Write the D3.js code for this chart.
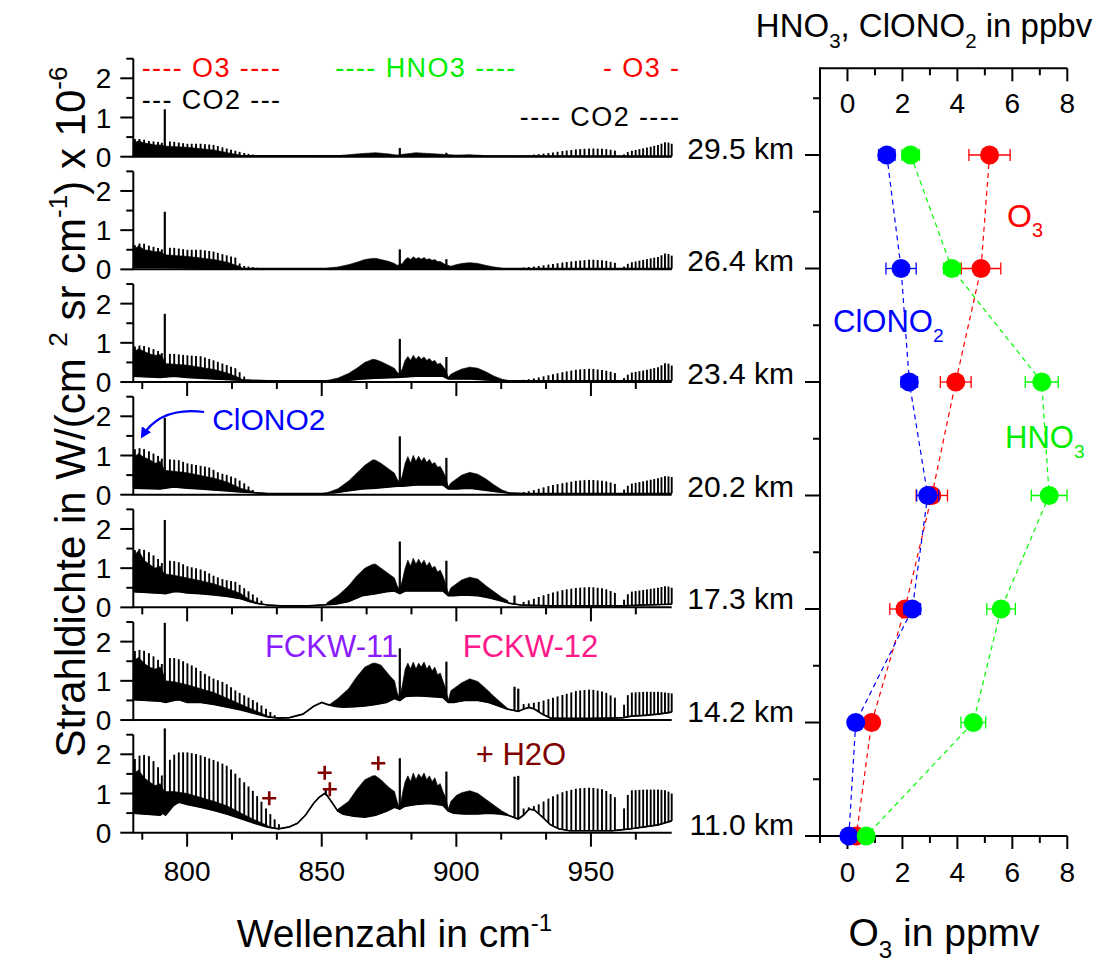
<!DOCTYPE html>
<html><head><meta charset="utf-8">
<script src="https://cdn.jsdelivr.net/npm/d3@7"></script>
<style>
body{margin:0;background:#fff}
text{font-family:"Liberation Sans",Arial,Helvetica,sans-serif;white-space:pre}
</style>
</head><body>
<svg id="c" width="1106" height="962" xmlns="http://www.w3.org/2000/svg" font-family="Liberation Sans, Arial, sans-serif"></svg>
<script>
// ===================== DATA =====================
const altitudes = ["29.5","26.4","23.4","20.2","17.3","14.2","11.0"];

// right panel profiles (bottom axis O3 ppmv, top axis HNO3/ClONO2 ppbv)
const o3      = [5.17, 4.86, 3.94, 3.07, 2.09, 0.88, 0.32];
const o3Err   = [0.75, 0.72, 0.56, 0.57, 0.55, 0.10, 0.05];
const hno3    = [2.30, 3.80, 7.07, 7.34, 5.59, 4.58, 0.68];
const hno3Err = [0.32, 0.30, 0.60, 0.65, 0.52, 0.45, 0.05];
const clono2    = [1.43, 1.95, 2.25, 2.92, 2.36, 0.30, 0.05];
const clono2Err = [0.30, 0.55, 0.30, 0.40, 0.30, 0.05, 0.05];

const spectraTicks = [800, 850, 900, 950];
const profileTicks = [0, 2, 4, 6, 8];
const radianceTicks = [0, 1, 2];

// positions of the regularly spaced (CO2) lines, cm^-1
const lineWn = [780.6,782.3,784.0,785.8,787.5,789.2,790.6,
  793.6,795.2,796.9,798.5,800.1,801.7,803.3,805.0,806.6,808.2,809.8,811.4,813.1,814.7,816.3,817.9,819.5,821.2,822.8,824.4,826.0,827.6,829.3,830.9,832.5,834.1,
  925.0,926.9,928.8,930.6,932.4,934.2,935.9,937.6,939.4,941.0,942.7,944.4,946.0,947.6,949.3,950.9,952.5,954.1,955.7,957.3,958.9,
  962.3,963.7,965.2,966.6,968.0,969.4,970.8,972.2,973.5,974.9,976.2,977.5,978.8,980.0];

// ---- 29.5 km ----
const lo295 = [[780,0.03],[800,0.02],[980,0.01]];
const hi295 = [[780,0.35],[782,0.4],[784,0.35],[786,0.33],[788,0.3],[790,0.3],[791,0.28],[792,0.27],[800,0.24],[810,0.17],[815,0.1],[820,0.04],[821,0],[854,0],[855,0.02],[860,0.05],[865,0.08],[870,0.1],[875,0.07],[878,0.04],[880,0.06],[885,0.1],[890,0.08],[895,0.06],[900,0.04],[905,0.05],[910,0.03],[911,0],[980,0]];
const pk295 = [[780,0.45],[783,0.45],[786,0.4],[789,0.38],[791,0.35],[792,0.4],[795,0.38],[800,0.33],[805,0.33],[810,0.3],[814,0.22],[818,0.15],[822,0.08],[830,0],[923,0],[924,0.03],[930,0.06],[935,0.1],[940,0.15],[945,0.19],[950,0.21],[955,0.2],[958,0.17],[961,0.12],[962,0.04],[963,0.1],[965,0.15],[970,0.22],[975,0.3],[978,0.38],[980,0.33]];
const sp295 = [[791.7,1.21],[879,0.22],[896.3,0.1]];

// ---- 26.4 km ----
const lo264 = [[780,0.05],[790,0.05],[800,0.04],[820,0.02],[980,0.02]];
const hi264 = [[780,0.5],[782,0.6],[784,0.5],[786,0.48],[788,0.45],[790,0.45],[791,0.4],[792,0.37],[800,0.33],[810,0.25],[815,0.18],[820,0.06],[821,0],[851,0],[852,0.03],[856,0.06],[860,0.12],[863,0.18],[866,0.25],[869,0.28],[870,0.28],[872,0.25],[875,0.2],[877,0.15],[878,0.1],[880,0.15],[881,0.25],[882,0.3],[883,0.25],[884,0.32],[885,0.27],[886,0.3],[887,0.26],[888,0.3],[889,0.25],[890,0.27],[891,0.23],[892,0.25],[893,0.2],[894,0.2],[895,0.16],[896,0.12],[898,0.08],[900,0.12],[902,0.15],[905,0.17],[908,0.15],[911,0.1],[914,0.06],[917,0.03],[918,0],[980,0]];
const pk264 = [[780,0.6],[783,0.68],[786,0.6],[789,0.55],[791,0.5],[792,0.55],[795,0.55],[800,0.5],[805,0.5],[810,0.45],[814,0.37],[818,0.3],[820,0.1],[830,0],[923,0],[924,0.04],[930,0.08],[935,0.13],[940,0.18],[945,0.22],[950,0.25],[955,0.23],[958,0.18],[961,0.14],[962,0.05],[963,0.12],[965,0.18],[970,0.25],[975,0.32],[978,0.42],[980,0.35]];
const sp264 = [[791.7,1.47],[879,0.51],[896.3,0.26]];

// ---- 23.4 km ----
const lo234 = [[780,0.15],[790,0.12],[795,0.15],[800,0.12],[810,0.08],[820,0.05],[830,0.03],[855,0.03],[860,0.05],[865,0.08],[870,0.1],[878,0.12],[885,0.15],[895,0.15],[897,0.08],[905,0.08],[915,0.04],[920,0.03],[980,0.03]];
const hi234 = [[780,0.75],[782,0.85],[784,0.78],[786,0.72],[788,0.68],[790,0.7],[791,0.6],[792,0.47],[800,0.43],[810,0.32],[815,0.23],[820,0.09],[821,0],[851,0],[852,0.04],[856,0.1],[860,0.22],[863,0.35],[866,0.5],[869,0.58],[870,0.57],[872,0.52],[875,0.42],[877,0.35],[878,0.25],[879,0.2],[880,0.35],[881,0.55],[882,0.65],[883,0.55],[884,0.68],[885,0.58],[886,0.66],[887,0.58],[888,0.64],[889,0.55],[890,0.6],[891,0.52],[892,0.55],[893,0.45],[894,0.48],[895,0.4],[896,0.3],[897,0.12],[898,0.2],[900,0.27],[902,0.33],[905,0.38],[908,0.35],[911,0.26],[914,0.15],[917,0.07],[919,0.04],[920,0],[980,0]];
const pk234 = [[780,0.9],[783,0.94],[786,0.88],[789,0.8],[791,0.72],[792,0.72],[795,0.72],[800,0.68],[805,0.66],[810,0.55],[814,0.45],[818,0.35],[821,0.15],[824,0],[923,0],[924,0.05],[928,0.08],[932,0.14],[936,0.2],[940,0.26],[945,0.32],[950,0.34],[955,0.3],[958,0.25],[961,0.18],[962,0.08],[963,0.16],[965,0.24],[970,0.3],[975,0.38],[978,0.5],[980,0.42]];
const sp234 = [[791.7,1.74],[879,1.1],[896.3,0.64]];

// ---- 20.2 km ----
const lo202 = [[780,0.17],[790,0.15],[795,0.2],[800,0.17],[805,0.15],[810,0.12],[815,0.1],[820,0.07],[825,0.05],[830,0.03],[850,0.03],[855,0.05],[860,0.1],[865,0.15],[870,0.17],[875,0.2],[878,0.22],[880,0.22],[885,0.25],[890,0.25],[895,0.25],[897,0.15],[900,0.15],[905,0.17],[910,0.12],[915,0.08],[920,0.04],[925,0.03],[980,0.03]];
const hi202 = [[780,0.95],[782,1.05],[784,0.95],[786,0.9],[788,0.8],[790,0.85],[791,0.7],[792,0.62],[800,0.56],[810,0.42],[815,0.32],[820,0.16],[825,0.07],[826,0],[851,0],[852,0.05],[856,0.15],[860,0.35],[863,0.55],[866,0.75],[869,0.89],[870,0.88],[872,0.8],[875,0.65],[877,0.55],[878,0.4],[879,0.3],[880,0.5],[881,0.8],[882,0.97],[883,0.8],[884,1.0],[885,0.85],[886,0.98],[887,0.85],[888,0.95],[889,0.82],[890,0.9],[891,0.78],[892,0.82],[893,0.7],[894,0.72],[895,0.6],[896,0.45],[897,0.2],[898,0.3],[900,0.4],[902,0.5],[905,0.57],[908,0.52],[911,0.4],[914,0.25],[917,0.12],[919,0.07],[920,0],[980,0]];
const pk202 = [[780,1.15],[783,1.2],[786,1.1],[789,1.0],[791,0.9],[792,0.9],[794,0.9],[797,0.88],[800,0.8],[804,0.75],[808,0.7],[812,0.55],[815,0.5],[818,0.42],[821,0.3],[824,0.15],[826,0],[923,0],[924,0.06],[928,0.1],[932,0.18],[936,0.25],[940,0.3],[945,0.36],[950,0.38],[955,0.35],[958,0.3],[961,0.22],[962,0.1],[963,0.2],[965,0.28],[970,0.35],[975,0.42],[978,0.48],[980,0.45]];
const sp202 = [[791.7,1.96],[879,1.49],[896.3,0.94]];

// ---- 17.3 km ----
const lo173 = [[780,0.4],[785,0.38],[790,0.36],[792,0.35],[795,0.4],[797,0.4],[800,0.37],[805,0.35],[810,0.32],[815,0.28],[820,0.22],[823,0.15],[826,0.1],[830,0.06],[835,0.04],[845,0.04],[850,0.06],[855,0.08],[860,0.15],[865,0.3],[870,0.35],[874,0.4],[877,0.42],[879,0.35],[881,0.42],[885,0.42],[890,0.42],[895,0.42],[897,0.3],[899,0.3],[903,0.32],[908,0.3],[912,0.25],[916,0.18],[920,0.1],[924,0.06],[928,0.05],[935,0.04],[950,0.04],[962,0.04],[970,0.06],[980,0.08]];
const hi173 = [[780,1.3],[782,1.45],[784,1.2],[786,1.1],[788,1.0],[790,1.05],[791,0.9],[792,0.85],[795,0.82],[800,0.75],[805,0.68],[810,0.6],[815,0.48],[820,0.35],[823,0.2],[826,0.12],[827,0],[851,0],[852,0.12],[856,0.3],[860,0.55],[863,0.8],[866,1.0],[869,1.1],[870,1.1],[872,1.0],[875,0.85],[877,0.75],[878,0.55],[879,0.45],[880,0.7],[881,1.0],[882,1.2],[883,1.05],[884,1.25],[885,1.1],[886,1.23],[887,1.1],[888,1.2],[889,1.05],[890,1.15],[891,1.0],[892,1.05],[893,0.9],[894,0.95],[895,0.8],[896,0.6],[897,0.35],[898,0.5],[900,0.6],[902,0.7],[905,0.77],[908,0.72],[911,0.55],[914,0.4],[917,0.25],[919,0.18],[920,0],[980,0]];
const pk173 = [[780,1.45],[783,1.5],[786,1.4],[789,1.25],[791,1.1],[792,1.15],[794,1.2],[797,1.15],[800,1.05],[803,1.0],[806,0.95],[810,0.8],[814,0.7],[818,0.65],[822,0.45],[825,0.3],[828,0.15],[830,0],[923,0],[924,0.12],[928,0.2],[932,0.3],[936,0.38],[940,0.45],[945,0.5],[950,0.52],[955,0.48],[958,0.4],[961,0.3],[962,0.15],[963,0.3],[965,0.4],[970,0.45],[975,0.5],[978,0.55],[980,0.5]];
const sp173 = [[791.7,2.23],[879,1.68],[896.3,1.19],[921.6,0.3]];

// ---- 14.2 km ----
const lo142 = [[780,0.52],[785,0.5],[790,0.48],[792,0.45],[795,0.5],[797,0.52],[800,0.45],[805,0.45],[810,0.4],[815,0.33],[820,0.26],[825,0.17],[830,0.08],[834,0.05],[838,0.06],[843,0.15],[847,0.35],[850,0.45],[852,0.4],[855,0.35],[858,0.33],[862,0.34],[866,0.36],[870,0.4],[874,0.45],[877,0.55],[879,0.5],[881,0.6],[885,0.62],[890,0.6],[895,0.58],[897,0.45],[899,0.45],[903,0.5],[908,0.5],[912,0.45],[916,0.35],[919,0.28],[921,0.25],[923,0.22],[925,0.28],[927,0.32],[929,0.28],[932,0.15],[935,0.05],[940,0.04],[950,0.04],[958,0.05],[962,0.06],[965,0.1],[970,0.12],[975,0.15],[980,0.2]];
const hi142 = [[780,1.5],[782,1.6],[784,1.45],[786,1.35],[788,1.3],[790,1.35],[791,1.2],[792,1.0],[795,0.98],[800,0.9],[805,0.8],[810,0.7],[815,0.55],[820,0.4],[825,0.25],[830,0.1],[831,0],[852,0],[853,0.4],[856,0.55],[860,0.8],[863,1.1],[866,1.35],[869,1.45],[870,1.45],[872,1.4],[875,1.15],[877,1.0],[878,0.7],[879,0.55],[880,0.9],[881,1.3],[882,1.45],[883,1.3],[884,1.48],[885,1.3],[886,1.45],[887,1.35],[888,1.48],[889,1.3],[890,1.4],[891,1.25],[892,1.35],[893,1.15],[894,1.2],[895,1.0],[896,0.8],[897,0.5],[898,0.75],[900,0.85],[902,0.95],[905,1.05],[908,0.98],[911,0.8],[914,0.6],[917,0.42],[919,0.3],[920,0],[980,0]];
const pk142 = [[780,1.75],[783,1.8],[786,1.7],[789,1.55],[791,1.4],[792,1.5],[794,1.6],[797,1.55],[800,1.45],[803,1.35],[806,1.2],[810,1.05],[814,0.95],[818,0.75],[822,0.6],[826,0.45],[830,0.25],[833,0.1],[835,0],[923,0],[924,0.4],[930,0.45],[935,0.55],[940,0.65],[945,0.75],[950,0.78],[955,0.72],[958,0.6],[961,0.5],[962,0.3],[963,0.6],[965,0.7],[970,0.72],[975,0.72],[978,0.7],[980,0.68]];
const sp142 = [[791.7,2.48],[879,1.83],[896.3,1.49],[921.6,0.85],[923,0.8]];

// ---- 11.0 km ----
const lo110 = [[780,0.5],[785,0.47],[790,0.45],[791,0.5],[792,0.45],[795,0.7],[797,0.78],[800,0.72],[805,0.65],[810,0.57],[815,0.47],[820,0.36],[825,0.24],[830,0.14],[834,0.1],[838,0.15],[841,0.24],[844,0.45],[847,0.75],[849,0.9],[850,0.95],[851,1.0],[852,0.95],[853.5,0.8],[856,0.55],[858,0.47],[862,0.42],[866,0.4],[870,0.45],[874,0.55],[877,0.65],[879,0.6],[881,0.68],[885,0.72],[890,0.75],[895,0.7],[897,0.55],[899,0.5],[903,0.48],[908,0.48],[912,0.5],[916,0.48],[919,0.45],[921,0.4],[923,0.35],[925,0.45],[927,0.6],[929,0.58],[932,0.4],[935,0.2],[938,0.1],[942,0.05],[950,0.05],[958,0.05],[962,0.08],[965,0.1],[970,0.15],[975,0.2],[980,0.3]];
const hi110 = [[780,1.5],[782,1.6],[784,1.4],[786,1.3],[788,1.2],[790,1.25],[791,1.1],[792,1.05],[795,1.05],[800,1.0],[805,0.9],[810,0.8],[815,0.68],[820,0.5],[825,0.33],[830,0.18],[831,0],[855,0],[856,0.6],[860,0.8],[863,1.1],[866,1.35],[869,1.45],[870,1.45],[872,1.35],[875,1.15],[877,1.05],[878,0.8],[879,0.6],[880,1.0],[881,1.3],[882,1.45],[883,1.3],[884,1.52],[885,1.35],[886,1.5],[887,1.4],[888,1.52],[889,1.35],[890,1.45],[891,1.3],[892,1.4],[893,1.2],[894,1.25],[895,1.05],[896,0.9],[897,0.6],[898,0.8],[900,0.95],[902,1.02],[905,1.07],[908,1.0],[911,0.85],[914,0.7],[917,0.55],[919,0.48],[920,0],[980,0]];
const pk110 = [[780,1.85],[783,2.0],[786,1.95],[789,1.7],[791,1.4],[792,1.5],[794,1.95],[797,2.05],[800,2.05],[804,2.0],[808,1.9],[812,1.8],[815,1.7],[818,1.5],[821,1.3],[824,1.1],[827,0.85],[830,0.55],[833,0.3],[835,0.15],[836,0],[923,0],[924,0.6],[930,0.7],[935,0.9],[940,1.05],[945,1.13],[950,1.15],[955,1.1],[958,0.95],[961,0.8],[962,0.5],[963,0.9],[965,1.08],[970,1.1],[975,1.1],[978,1.08],[980,1.0]];
const sp110 = [[791.7,2.66],[851.5,1.09],[879,1.9],[896.3,1.56],[921.6,1.43],[923,1.45]];

// ===================== LAYOUT =====================
const svg = d3.select("#c");
const W = 1106, H = 962;
svg.append("rect").attr("width",W).attr("height",H).attr("fill","#fff");

const panels = [
  {alt:"29.5", lo:lo295, hi:hi295, pk:pk295, sp:sp295},
  {alt:"26.4", lo:lo264, hi:hi264, pk:pk264, sp:sp264},
  {alt:"23.4", lo:lo234, hi:hi234, pk:pk234, sp:sp234},
  {alt:"20.2", lo:lo202, hi:hi202, pk:pk202, sp:sp202},
  {alt:"17.3", lo:lo173, hi:hi173, pk:pk173, sp:sp173},
  {alt:"14.2", lo:lo142, hi:hi142, pk:pk142, sp:sp142},
  {alt:"11.0", lo:lo110, hi:hi110, pk:pk110, sp:sp110}
];

const x = d3.scaleLinear().domain([780,980]).range([133.3,671.7]);
const yBase = d3.scalePoint().domain(altitudes).range([156.7,832.7]);
const panelH = 98;
const yR = d3.scalePoint().domain(altitudes).range([155,836]);
const xR = d3.scaleLinear().domain([-1,8]).range([820,1067.3]);

function interp(arr, w){
  if (w <= arr[0][0]) return arr[0][1];
  for (let i=1;i<arr.length;i++){
    if (w <= arr[i][0]){
      const [x0,y0]=arr[i-1],[x1,y1]=arr[i];
      return y0 + (y1-y0)*(w-x0)/(x1-x0);
    }
  }
  return arr[arr.length-1][1];
}

function richText(sel, px, py, parts, size, color, anchor, rotate){
  const t = sel.append("text").attr("x",px).attr("y",py).attr("font-size",size)
    .attr("fill",color).attr("text-anchor",anchor||"start");
  if (rotate) t.attr("transform",`rotate(${rotate},${px},${py})`);
  let shift = 0;
  parts.forEach(([s,kind])=>{
    const target = kind==="sup" ? -0.42*size : kind==="sub" ? 0.32*size : 0;
    t.append("tspan").attr("dy", target-shift).attr("font-size", kind==="n"?size:size*0.62).text(s);
    shift = target;
  });
  return t;
}

const sampleWn = d3.range(780, 980.001, 0.1);

// ===================== SPECTRA PANELS =====================
panels.forEach((p,i)=>{
  const base = yBase(p.alt);
  const y = d3.scaleLinear().domain([0,2.5]).range([base, base-panelH]);
  const g = svg.append("g");

  const area = d3.area()
    .x(w=>x(w))
    .y0(w=>y(interp(p.lo,w)))
    .y1(w=>y(Math.max(interp(p.lo,w), interp(p.hi,w))));
  g.append("path").attr("d", area(sampleWn)).attr("fill","#000").attr("stroke","#000").attr("stroke-width",0.8);

  g.append("path").attr("d", d3.line().x(d=>x(d[0])).y(d=>y(d[1]))(p.lo))
    .attr("fill","none").attr("stroke","#000").attr("stroke-width",1.7);

  lineWn.forEach(w=>{
    const a = interp(p.lo,w), b = interp(p.pk,w);
    if (b > a + 0.01) {
      g.append("line").attr("x1",x(w)).attr("x2",x(w)).attr("y1",y(a)).attr("y2",y(b))
        .attr("stroke","#000").attr("stroke-width",1.9);
    }
  });
  p.sp.forEach(([w,v])=>{
    g.append("line").attr("x1",x(w)).attr("x2",x(w)).attr("y1",y(interp(p.lo,w))).attr("y2",y(v))
      .attr("stroke","#000").attr("stroke-width",2.2);
  });

  const ax = g.append("g").attr("stroke","#000").attr("stroke-width",2);
  ax.append("line").attr("x1",x(780)).attr("x2",x(780)).attr("y1",y(0)).attr("y2",y(2.5));
  ax.append("line").attr("x1",x(780)-1).attr("x2",x(980)).attr("y1",y(0)).attr("y2",y(0));
  [0,0.5,1,1.5,2,2.5].forEach(v=>{
    const len = (v%1===0) ? 13 : 7;
    ax.append("line").attr("x1",x(780)-len).attr("x2",x(780)).attr("y1",y(v)).attr("y2",y(v));
  });
  radianceTicks.forEach(v=>{
    g.append("text").attr("x",x(780)-22).attr("y",y(v)+10).attr("text-anchor","end")
      .attr("font-size",28).text(v);
  });
  if (i % 2 === 0 && i > 0) {
    d3.range(783.3333, 980, 50/3).forEach(w=>{
      const major = Math.abs(Math.round(w) % 50) < 0.5;
      ax.append("line").attr("x1",x(w)).attr("x2",x(w)).attr("y1",y(0)).attr("y2",y(0)+(major?14:7));
    });
  }

  svg.append("text").attr("x",794).attr("y",base+2).attr("text-anchor","end")
    .attr("font-size",30).text(p.alt+" km");
});

const bottomBase = yBase("11.0");
spectraTicks.forEach(v=>{
  svg.append("text").attr("x",x(v)).attr("y",bottomBase+48).attr("text-anchor","middle")
    .attr("font-size",28).text(v);
});

richText(svg, x(880)-8, 947, [["Wellenzahl in cm","n"],["-1","sup"]], 39, "#000", "middle");
richText(svg, 85, 412, [["Strahldichte in W/(cm ","n"],["2","sup"],[" sr cm","n"],["-1","sup"],[") x 10","n"],["-6","sup"]], 42, "#000", "middle", -90);

// ===================== ANNOTATIONS =====================
{
  const b0 = yBase("29.5");
  const y0 = d3.scaleLinear().domain([0,2.5]).range([b0,b0-panelH]);
  const leg = (wn, v, txt, col) => svg.append("text").attr("x",x(wn)).attr("y",y0(v))
    .attr("font-size",27).attr("letter-spacing",1.4).attr("fill",col).text(txt);
  leg(783.1, 2.04, "---- O3 ----", "#ff0000");
  leg(783.1, 1.21, "--- CO2 ---", "#000");
  leg(855, 2.04, "---- HNO3 ----", "#00ee00");
  leg(954.5, 2.04, "- O3 -", "#ff0000");
  leg(923.6, 0.78, "---- CO2 ----", "#000");

  const b3 = yBase("20.2");
  const y3 = d3.scaleLinear().domain([0,2.5]).range([b3,b3-panelH]);
  svg.append("text").attr("x",x(809.3)).attr("y",y3(1.65)).attr("font-size",30).attr("fill","#0000ff").text("ClONO2");
  svg.append("defs").append("marker").attr("id","ah").attr("viewBox","0 0 10 10").attr("refX",8).attr("refY",5)
    .attr("markerWidth",5).attr("markerHeight",5).attr("orient","auto")
    .append("path").attr("d","M0,0L10,5L0,10z").attr("fill","#0000ff");
  svg.append("path")
    .attr("d",`M${x(806.3)},${y3(2.11)} Q${x(790)},${y3(2.25)} ${x(783.2)},${y3(1.48)}`)
    .attr("fill","none").attr("stroke","#0000ff").attr("stroke-width",2.2).attr("marker-end","url(#ah)");

  const b5 = yBase("14.2");
  const y5 = d3.scaleLinear().domain([0,2.5]).range([b5,b5-panelH]);
  svg.append("text").attr("x",x(828.9)).attr("y",y5(1.62)).attr("font-size",31).attr("fill","#8a1cff").text("FCKW-11");
  svg.append("text").attr("x",x(902.4)).attr("y",y5(1.62)).attr("font-size",31).attr("fill","#ff1a8c").text("FCKW-12");

  const b6 = yBase("11.0");
  const y6 = d3.scaleLinear().domain([0,2.5]).range([b6,b6-panelH]);
  svg.append("text").attr("x",x(907.2)).attr("y",y6(1.73)).attr("font-size",31).attr("fill","#800000").text("+ H2O");
  const plusMarks = [[830.5,0.88],[851.1,1.53],[853,1.11],[871,1.77]];
  plusMarks.forEach(([w,v])=>{
    svg.append("path").attr("d",`M${x(w)-7},${y6(v)}h14M${x(w)},${y6(v)-7}v14`)
      .attr("stroke","#800000").attr("stroke-width",2.6);
  });
}

// ===================== PROFILE PANEL =====================
{
  const g = svg.append("g");
  const top = 68.3, bot = yR("11.0");
  const step = yR.step();
  const ax = g.append("g").attr("stroke","#000").attr("stroke-width",2);
  ax.append("line").attr("x1",xR(-1)).attr("x2",xR(-1)).attr("y1",top-1).attr("y2",bot+1);
  ax.append("line").attr("x1",xR(-1)).attr("x2",xR(8)).attr("y1",top).attr("y2",top);
  ax.append("line").attr("x1",xR(-1)-15).attr("x2",xR(8)).attr("y1",bot).attr("y2",bot);
  d3.range(-1,8.01,1).forEach(v=>{
    const len = (v%2===0) ? 13 : 7;
    ax.append("line").attr("x1",xR(v)).attr("x2",xR(v)).attr("y1",top).attr("y2",top+len);
    ax.append("line").attr("x1",xR(v)).attr("x2",xR(v)).attr("y1",bot).attr("y2",bot+len);
  });
  altitudes.forEach(a=>{
    ax.append("line").attr("x1",xR(-1)-15).attr("x2",xR(-1)).attr("y1",yR(a)).attr("y2",yR(a));
    ax.append("line").attr("x1",xR(-1)-7).attr("x2",xR(-1)).attr("y1",yR(a)-step/2).attr("y2",yR(a)-step/2);
  });
  profileTicks.forEach(v=>{
    g.append("text").attr("x",xR(v)).attr("y",top+45).attr("text-anchor","middle").attr("font-size",28).text(v);
    g.append("text").attr("x",xR(v)).attr("y",bot+46).attr("text-anchor","middle").attr("font-size",28).text(v);
  });

  const series = [
    {vals:o3, err:o3Err, color:"#ff0000"},
    {vals:clono2, err:clono2Err, color:"#0000ff"},
    {vals:hno3, err:hno3Err, color:"#00ff00"}
  ];
  series.forEach(s=>{
    g.append("path").attr("d", d3.line().x(d=>xR(d)).y((d,i)=>yR(altitudes[i]))(s.vals))
      .attr("fill","none").attr("stroke",s.color).attr("stroke-width",1.2).attr("stroke-dasharray","5,4");
  });
  series.forEach(s=>{
    s.vals.forEach((v,i)=>{
      const yy = yR(altitudes[i]);
      const e = s.err[i];
      const eg = g.append("g").attr("stroke",s.color).attr("stroke-width",1.3);
      eg.append("line").attr("x1",xR(v-e)).attr("x2",xR(v+e)).attr("y1",yy).attr("y2",yy);
      eg.append("line").attr("x1",xR(v-e)).attr("x2",xR(v-e)).attr("y1",yy-6).attr("y2",yy+6);
      eg.append("line").attr("x1",xR(v+e)).attr("x2",xR(v+e)).attr("y1",yy-6).attr("y2",yy+6);
      g.append("circle").attr("cx",xR(v)).attr("cy",yy).attr("r",9.5).attr("fill",s.color);
    });
  });

  richText(svg, 1007, 227, [["O","n"],["3","sub"]], 32, "#ff0000", "start");
  richText(svg, 833, 332, [["ClONO","n"],["2","sub"]], 31, "#0000ff", "start");
  richText(svg, 1005, 448, [["HNO","n"],["3","sub"]], 31, "#00ee00", "start");

  richText(svg, 924, 37, [["HNO","n"],["3","sub"],[", ClONO","n"],["2","sub"],[" in ppbv","n"]], 33, "#000", "middle");
  richText(svg, 944, 946, [["O","n"],["3","sub"],[" in ppmv","n"]], 39, "#000", "middle");
}
</script>
</body></html>
